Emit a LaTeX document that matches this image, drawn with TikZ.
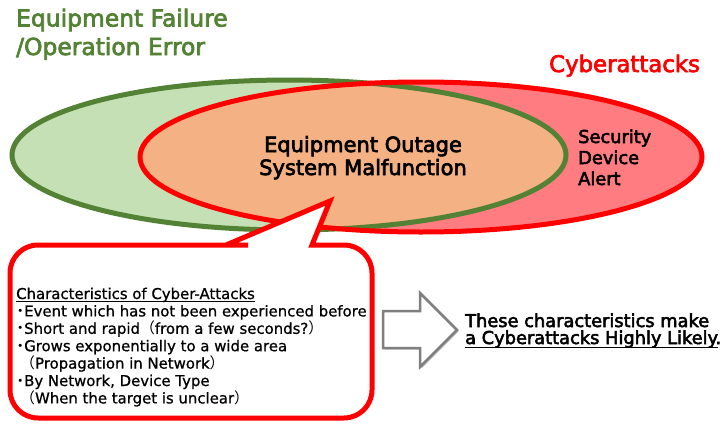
\documentclass[tikz,border=0pt]{standalone}
\usepackage{fontspec}
\setmainfont{DejaVu Sans}
\newfontfamily\hbold[FakeBold=3]{DejaVu Sans}
\newfontfamily\bodyf[FakeBold=0.8]{DejaVu Sans}
\newfontfamily\jpf{Noto Sans CJK JP}
\definecolor{gfill}{HTML}{C5E0B4}
\definecolor{gline}{HTML}{548235}
\definecolor{rfill}{HTML}{FF7C80}
\definecolor{ofill}{HTML}{F4B183}
\definecolor{rline}{HTML}{FF0000}
\definecolor{agray}{HTML}{7F7F7F}
\newcommand\bulmark{\makebox[8pt][c]{\jpf ・}}
\newlength\ulen
\newcommand\myul[2]{\settowidth{\ulen}{#2}\rlap{\rule[#1]{\ulen}{0.9pt}}#2}
\begin{document}
\begin{tikzpicture}[x=1pt,y=-1pt,
  lbl/.style={inner sep=0pt, anchor=base west},
  lblc/.style={inner sep=0pt, anchor=base},
  titlefont/.style={font=\hbold\fontsize{23.4}{28}\selectfont, text=gline},
  midfont/.style={font=\hbold\fontsize{21}{24}\selectfont},
  secfont/.style={font=\hbold\fontsize{17.8}{21}\selectfont},
  bodyfont/.style={font=\bodyf\fontsize{14.9}{17.4}\selectfont},
  tightline/.style={text height=12.5pt, text depth=3pt},
  ringline/.style={line width=5pt}]
\useasboundingbox (0,0) rectangle (728,423);
% ellipses
\fill[gfill] (289,155) ellipse [x radius=277pt, y radius=75pt];
\fill[rfill] (421,157) ellipse [x radius=281pt, y radius=75pt];
\begin{scope}
  \clip (289,155) ellipse [x radius=277pt, y radius=75pt];
  \fill[ofill] (421,157) ellipse [x radius=281pt, y radius=75pt];
\end{scope}
\draw[gline, ringline] (289,155) ellipse [x radius=277pt, y radius=75pt];
\draw[rline, ringline] (421,157) ellipse [x radius=281pt, y radius=75pt];
% titles
\node[lbl, titlefont] (t1) at (16,26.5) {Equipment Failure};
\node[lbl, titlefont] (t2) at (16,55) {/Operation Error};
\node[lbl, font=\hbold\fontsize{22.8}{27}\selectfont, text=rline] (cy) at (549,72) {Cyberattacks};
\node[lblc, midfont] (m1) at (363,152) {Equipment Outage};
\node[lblc, midfont] (m2) at (363,175) {System Malfunction};
\node[lbl, secfont] (s1) at (578,143) {Security};
\node[lbl, secfont] (s2) at (578,164) {Device};
\node[lbl, secfont] (s3) at (578,185) {Alert};
% callout
\draw[rline, line width=5pt, fill=white, rounded corners=28pt, line join=miter]
  (10,330) |- (220,245) [sharp corners] -- (226,245) -- (330,201) -- (312,245) -- (318,245)
  [rounded corners=28pt] -| (372,418) -| (10,335) -- cycle;
\node[lbl, bodyfont] (c1) at (16,299) {\myul{-2.6pt}{Characteristics of Cyber-Attacks}};
\node[lbl, bodyfont] (c2) at (16,316.4) {\bulmark Event which has not been experienced before};
\node[lbl, bodyfont] (c3) at (16,333.8) {\bulmark Short and rapid{\jpf （}from a few seconds?{\jpf ）}};
\node[lbl, bodyfont] (c4) at (16,351.2) {\bulmark Grows exponentially to a wide area};
\node[lbl, bodyfont] (c5) at (20,368.6) {{\jpf （}Propagation in Network{\jpf ）}};
\node[lbl, bodyfont] (c6) at (16,386) {\bulmark By Network, Device Type};
\node[lbl, bodyfont] (c7) at (20,403.4) {{\jpf （}When the target is unclear{\jpf ）}};
% block arrow
\fill[black!22] (384.5,312.5) -- (421.5,312.5) -- (421.5,294.5) -- (458.5,331.5) -- (421.5,368.5) -- (421.5,349.5) -- (384.5,349.5) -- cycle;
\draw[agray, line width=2.5pt, fill=white, line join=miter] (383,311) -- (420,311) -- (420,293) -- (457,330) -- (420,367) -- (420,348) -- (383,348) -- cycle;
\node[lbl, secfont, tightline] (r1) at (465,327) {These characteristics make};
\node[lbl, secfont, tightline] (r2) at (465,344) {\myul{-3.4pt}{a Cyberattacks Highly Likely}.};
\end{tikzpicture}
\end{document}
